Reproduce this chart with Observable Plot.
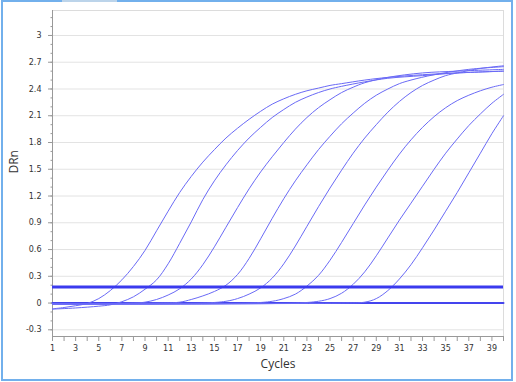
<!DOCTYPE html>
<html>
<head>
<meta charset="utf-8">
<script src="https://cdn.jsdelivr.net/npm/d3@7"></script>
<script src="https://cdn.jsdelivr.net/npm/@observablehq/plot@0.6"></script>
<style>
  body { margin: 0; background: #fff; }
  #wrap { position: relative; width: 516px; height: 382px; background: #fff; overflow: hidden; }
  #border { position: absolute; left: 1px; top: 0; width: 512px; height: 381px; border: 2px solid #72b0ec; box-sizing: border-box; pointer-events: none; }
  #tab { position: absolute; left: 62px; top: 0; width: 55px; height: 2px; background: #bcd4ea; }
</style>
</head>
<body>
<div id="wrap"><div id="chart"></div><div id="border"></div><div id="tab"></div></div>
<script>
// Amplification curves: [cycle, DRn]
const curve1 = [[1,-0.065],[2,-0.05],[3,-0.03],[4,-0.005],[5,0.05],[6,0.14],[7,0.26],[8,0.41],[9,0.59],[10,0.81],[11,1.03],[12,1.24],[13,1.42],[14,1.58],[15,1.72],[16,1.85],[17,1.96],[18,2.06],[19,2.15],[20,2.23],[21,2.29],[22,2.34],[23,2.38],[24,2.41],[25,2.44],[26,2.46],[28,2.5],[30,2.53],[33,2.56],[36,2.58],[40,2.6]];
const curve2 = [[1,-0.068],[3,-0.055],[5,-0.035],[6,-0.02],[7,0.015],[8,0.07],[9,0.155],[10,0.26],[11,0.44],[12,0.67],[13,0.91],[14,1.16],[15,1.37],[16,1.55],[17,1.71],[18,1.85],[19,1.97],[20,2.08],[21,2.17],[22,2.25],[23,2.31],[24,2.36],[25,2.4],[26,2.43],[28,2.48],[30,2.52],[33,2.55],[36,2.58],[40,2.6]];
const curve3 = [[1,-0.01],[8,0],[9,0.01],[10,0.04],[11,0.09],[12,0.16],[13,0.27],[14,0.43],[15,0.63],[16,0.85],[17,1.07],[18,1.28],[19,1.47],[20,1.64],[21,1.8],[22,1.95],[23,2.08],[24,2.19],[25,2.28],[26,2.36],[27,2.42],[28,2.47],[30,2.53],[33,2.58],[36,2.6],[40,2.62]];
const curve4 = [[1,-0.01],[10,0],[12,0.01],[13,0.04],[14,0.08],[15,0.13],[16,0.2],[17,0.32],[18,0.5],[19,0.72],[20,0.95],[21,1.17],[22,1.37],[23,1.55],[24,1.72],[25,1.87],[26,2.01],[27,2.13],[28,2.24],[29,2.33],[30,2.4],[31,2.46],[32,2.5],[34,2.56],[37,2.62],[40,2.65]];
const curve5 = [[1,-0.01],[14,0],[16,0.02],[17,0.05],[18,0.1],[19,0.17],[20,0.28],[21,0.44],[22,0.64],[23,0.86],[24,1.08],[25,1.29],[26,1.49],[27,1.68],[28,1.85],[29,2.0],[30,2.14],[31,2.26],[32,2.36],[33,2.44],[34,2.5],[35,2.55],[36,2.58],[38,2.63],[40,2.66]];
const curve6 = [[1,-0.01],[18,0],[20,0.02],[21,0.05],[22,0.1],[23,0.19],[24,0.31],[25,0.48],[26,0.68],[27,0.89],[28,1.1],[29,1.3],[30,1.49],[31,1.67],[32,1.83],[33,1.97],[34,2.09],[35,2.19],[36,2.27],[37,2.33],[38,2.38],[39,2.42],[40,2.45]];
const curve7 = [[1,-0.01],[22,0],[24,0.02],[25,0.05],[26,0.11],[27,0.21],[28,0.35],[29,0.53],[30,0.73],[31,0.93],[32,1.12],[33,1.31],[34,1.5],[35,1.68],[36,1.84],[37,1.99],[38,2.12],[39,2.24],[40,2.34]];
const curve8 = [[1,-0.01],[26,0],[28,0.01],[29,0.05],[30,0.14],[31,0.27],[32,0.43],[33,0.62],[34,0.82],[35,1.03],[36,1.24],[37,1.46],[38,1.68],[39,1.9],[40,2.1]];
const ntc = [[1,0],[40,0]];
const threshold = 0.18;

const yTicks = [-0.3, 0, 0.3, 0.6, 0.9, 1.2, 1.5, 1.8, 2.1, 2.4, 2.7, 3];
const xTicks = d3.range(1, 41);
const xLabels = d3.range(1, 41, 2);
const yMinor = d3.range(-3, 33).map(i => i / 10);
const yDomain = [-0.375, 3.28];

const curves = [curve1, curve2, curve3, curve4, curve5, curve6, curve7, curve8];
const rows = curves.flatMap((c, i) => c.map(([cycle, value]) => ({cycle, value, id: i})));
const ntcRows = ntc.map(([cycle, value]) => ({cycle, value}));

const chart = Plot.plot({
  width: 516,
  height: 382,
  marginLeft: 52,
  marginRight: 13,
  marginTop: 10,
  marginBottom: 46,
  style: {fontFamily: "DejaVu Sans", fontSize: "8px", color: "#333", background: "transparent"},
  x: {domain: [1, 40], label: null},
  y: {domain: yDomain, label: null},
  marks: [
    Plot.gridY(yTicks, {stroke: "#e3e3e3", strokeOpacity: 1, strokeWidth: 1}),
    Plot.frame({stroke: "#dcdcdc"}),
    Plot.ruleX([1], {stroke: "#999"}),
    Plot.ruleY([yDomain[0]], {stroke: "#999"}),
    Plot.axisY(yMinor, {tickSize: 1.5, tickFormat: () => "", stroke: "#999", label: null}),
    Plot.axisY(yTicks, {tickSize: 4, tickFormat: () => "", stroke: "#999", label: null}),
    Plot.axisY(yTicks, {tickSize: 0, tickPadding: 11, tickFormat: d => String(d), fontSize: 8, label: null}),
    Plot.axisX(xTicks, {tickSize: 5, tickFormat: () => "", stroke: "#999", label: null}),
    Plot.axisX(xLabels, {tickSize: 0, tickPadding: 9, tickFormat: d => String(d), fontSize: 8, label: null}),
    Plot.line(ntcRows, {x: "cycle", y: "value", stroke: "#4444ee", strokeWidth: 2}),
    Plot.line(rows, {x: "cycle", y: "value", z: "id", curve: "catmull-rom", stroke: "#6a6af6", strokeWidth: 1}),
    Plot.ruleY([threshold], {stroke: "#3a3aee", strokeWidth: 3}),
    Plot.text(["Cycles"], {frameAnchor: "bottom", dy: 31, fontSize: 12, fontFamily: "Open Sans", fill: "#333"}),
    Plot.text(["DRn"], {frameAnchor: "left", dx: -38, rotate: -90, fontSize: 12, fontFamily: "Open Sans", fill: "#333"})
  ]
});
document.getElementById("chart").appendChild(chart);
</script>
</body>
</html>
